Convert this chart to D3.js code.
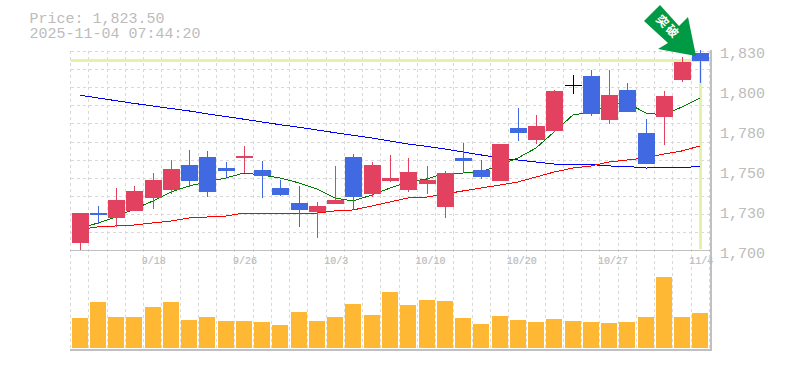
<!DOCTYPE html>
<html>
<head>
<meta charset="utf-8">
<script src="https://cdn.jsdelivr.net/npm/d3@7"></script>
<style>
  html, body { margin: 0; padding: 0; background: #fff; }
  text { font-family: "Liberation Mono", monospace; fill: #bcbcbc; }
  .axis text { font-size: 15px; }
  .date text { font-size: 10px; stroke: #bcbcbc; stroke-width: 0.2px; }
</style>
</head>
<body>
<div id="chart"></div>
<script>
const priceLabel = "Price: 1,823.50";
const timeLabel = "2025-11-04 07:44:20";
const markLabel = "突破";

const dates = ["9/11","9/12","9/16","9/17","9/18","9/19","9/22","9/24","9/25","9/26","9/29","9/30",
  "10/1","10/2","10/3","10/6","10/7","10/8","10/9","10/10","10/14","10/15","10/16","10/17",
  "10/20","10/21","10/22","10/23","10/24","10/27","10/28","10/29","10/30","10/31","11/4"];
const dateTicks = ["9/18","9/26","10/3","10/10","10/20","10/27","11/4"];
const priceTicks = [1700,1725,1750,1775,1800,1825];

const opens = [1706.3,1725,1721.9,1726.3,1734.4,1739.4,1755,1760,1753.1,1759.4,1751.9,1740.6,
  1731.3,1725.6,1730.6,1760,1736.9,1745,1739.4,1743.1,1728.8,1759.4,1751.9,1745,
  1778.1,1770.6,1776.3,1805,1810.6,1783.1,1801.9,1775,1785,1808.1,1825];
const highs = [1725,1729.4,1740.6,1741.9,1750,1758.1,1764.4,1763.8,1756.9,1766.9,1757.5,1745.6,
  1741.9,1731.9,1754.4,1761.9,1756.9,1761.3,1759.4,1754.4,1751.3,1768.8,1758.1,1768.1,
  1790.6,1786.3,1801.9,1811.3,1814.4,1814.4,1806.3,1783.8,1801.3,1822.5,1826.9];
const lows = [1701.9,1718.1,1716.3,1726.3,1727.5,1736.9,1741.3,1735,1747.5,1750,1734.4,1735.6,
  1716.3,1709.4,1730.6,1726.9,1735,1744.4,1738.1,1736.9,1721.9,1750,1746.3,1745,
  1770,1768.1,1775.6,1799.4,1785.6,1780.6,1788.1,1755.6,1767.5,1806.9,1806.3];
const closes = [1725,1723.8,1733.1,1738.8,1745.6,1752.5,1745,1738.1,1751.3,1760.6,1748.1,1736.3,
  1726.9,1729.4,1733.1,1735,1755,1746.9,1750.6,1745.6,1750,1757.5,1747.5,1768.1,
  1775,1779.4,1801.3,1805,1786.9,1798.8,1788.1,1755.6,1798.1,1819.4,1820];

const maShort = [1715.3,1718.8,1722.5,1727.5,1732.5,1738.1,1741.9,1744.4,1746.9,1750,1748.8,1746.9,
  1743.8,1740,1734.4,1732.5,1736.3,1740.6,1744.4,1746.3,1750,1750,1750.6,1755,
  1759.4,1765.6,1775.6,1786.3,1788.1,1792.5,1793.8,1787.5,1786.3,1791.3,1796.9];
const maMid = [1714.7,1716.3,1716.9,1717.5,1718.8,1720,1721.9,1722.5,1723.1,1725,1725,1725,
  1724.4,1725,1726.3,1726.9,1729.4,1731.9,1734.4,1735,1736.9,1738.8,1740.6,1742.5,
  1744.4,1747.5,1750.6,1753.1,1754.4,1756.9,1758.1,1759.4,1761.9,1763.8,1766.9];
const maLong = [1798.6,1796.9,1795.2,1793.5,1791.9,1790.3,1788.8,1787,1785.3,1783.6,1781.9,1780.2,
  1778.6,1776.9,1775.2,1773.6,1771.9,1770,1768.1,1766.6,1765,1763.1,1761.3,1759.4,
  1758.1,1756.9,1755.6,1755.6,1755.3,1754.4,1754.1,1753.1,1753.4,1753.4,1754.1];

const volume = [30,46,31,31,41,46,28,31,27,27,26,23,36,27,31,44,33,56,43,48,47,30,24,32,28,26,29,27,26,25,26,31,71,31,35];
const lastPrice = 1820.3;

const width = 785, height = 370;
const plotLeft = 70.5, plotRight = 709.5, plotTop = 51, plotBottom = 250, volBottom = 350;

const svg = d3.select("#chart").append("svg")
  .attr("width", width).attr("height", height)
  .style("display", "block");

const x = d3.scaleBand().domain(dates).range([plotLeft, plotRight]);
const y = d3.scaleLinear().domain([1700, 1825]).range([253, 53]);
const yVol = d3.scaleLinear().domain([0, 100]).range([348, 248]);
const cx = (d) => Math.round(x(d) + x.bandwidth() / 2);

// title
svg.append("text").attr("x", 29.5).attr("y", 23).style("font-size", "15px").text(priceLabel);
svg.append("text").attr("x", 29.5).attr("y", 38).style("font-size", "15px").text(timeLabel);

// dashed grid, vertical lines sit between the candles
const grid = svg.append("g").attr("stroke", "#d8d8d8").attr("stroke-dasharray", "3,3").attr("shape-rendering", "crispEdges");
d3.range(dates.length + 1).forEach((i) => {
  const gx = Math.floor(plotLeft + i * x.step()) + 0.5;
  grid.append("line").attr("x1", gx).attr("x2", gx).attr("y1", plotTop).attr("y2", volBottom);
});
d3.range(0, 11).forEach((i) => {
  const gy = Math.round(plotTop + i * 18.1) + 0.5;
  grid.append("line").attr("x1", plotLeft).attr("x2", plotRight).attr("y1", gy).attr("y2", gy);
});

// frame
const frame = svg.append("g").attr("stroke", "#c0c0c0").attr("shape-rendering", "crispEdges");
frame.append("line").attr("x1", 70).attr("x2", 711).attr("y1", plotBottom + 0.5).attr("y2", plotBottom + 0.5);
frame.append("line").attr("x1", 70).attr("x2", 711).attr("y1", volBottom).attr("y2", volBottom).attr("stroke-width", 2);
frame.append("line").attr("x1", 710.5).attr("x2", 710.5).attr("y1", 50).attr("y2", 351).attr("stroke-width", 2);

// current price highlight
const lastX = cx(dates[dates.length - 1]);
svg.append("line").attr("x1", plotLeft).attr("x2", 710).attr("y1", y(lastPrice)).attr("y2", y(lastPrice))
  .attr("stroke", "#e2f2a6").attr("stroke-width", 3);
svg.append("line").attr("x1", lastX + 0.5).attr("x2", lastX + 0.5).attr("y1", y(lastPrice)).attr("y2", 249)
  .attr("stroke", "#e2f2a6").attr("stroke-width", 3);

// axes
const yAxis = svg.append("g").attr("class", "axis")
  .attr("transform", "translate(720,0)")
  .call(d3.axisRight(y).tickValues(priceTicks).tickSize(0).tickPadding(0)
    .tickFormat((d) => d3.format(",")(Math.round(d / 10) * 10)));
yAxis.select(".domain").remove();

const xAxis = svg.append("g").attr("class", "date")
  .attr("transform", "translate(0,257)")
  .call(d3.axisBottom(x).tickValues(dateTicks).tickSize(0).tickPadding(0));
xAxis.select(".domain").remove();
xAxis.selectAll("text").attr("text-anchor", "start").attr("dx", -11);

// moving averages, jagged 1px like the original
const line = d3.line().x((d, i) => cx(dates[i])).y((d) => y(d));
const maData = [[maLong, "#0000ff"], [maMid, "#ff0000"], [maShort, "#007a00"]];
svg.selectAll(".ma").data(maData).enter().append("path")
  .attr("class", "ma")
  .attr("fill", "none")
  .attr("stroke", (d) => d[1])
  .attr("stroke-width", 1)
  .attr("shape-rendering", "crispEdges")
  .attr("d", (d) => line(d[0]));

// candles
const candleColor = (i) => closes[i] > opens[i] ? "#e2425f" : closes[i] < opens[i] ? "#4169e1" : "#000";
const candles = svg.selectAll(".candle").data(dates).enter().append("g")
  .attr("class", "candle")
  .attr("shape-rendering", "crispEdges");
candles.append("line")
  .attr("x1", (d) => cx(d) + 0.5).attr("x2", (d) => cx(d) + 0.5)
  .attr("y1", (d, i) => y(highs[i])).attr("y2", (d, i) => y(lows[i]))
  .attr("stroke", (d, i) => candleColor(i));
candles.append("rect")
  .attr("x", (d) => cx(d) - 8)
  .attr("width", 17)
  .attr("y", (d, i) => y(Math.max(opens[i], closes[i])))
  .attr("height", (d, i) => Math.max(1, Math.abs(y(opens[i]) - y(closes[i]))))
  .attr("fill", (d, i) => candleColor(i));

// volume
svg.selectAll(".vol").data(volume).enter().append("rect")
  .attr("class", "vol")
  .attr("x", (d, i) => cx(dates[i]) - 8)
  .attr("width", 16)
  .attr("y", (d) => yVol(d))
  .attr("height", (d) => yVol(0) - yVol(d))
  .attr("fill", "#ffb833");

// green arrow pointing at the last candle
const arrow = svg.append("g");
arrow.append("path")
  .attr("d", "M660,5L644,21L668,43L658,49L696,56L688,17L679,26Z")
  .attr("fill", "#009944");
arrow.append("text")
  .attr("transform", "translate(668,27) rotate(45)")
  .attr("text-anchor", "middle")
  .attr("dy", "0.35em")
  .style("font-family", '"Noto Sans CJK JP"')
  .style("font-size", "12px")
  .style("letter-spacing", "2px")
  .style("font-weight", "bold")
  .style("fill", "#fff")
  .text(markLabel);
</script>
</body>
</html>
